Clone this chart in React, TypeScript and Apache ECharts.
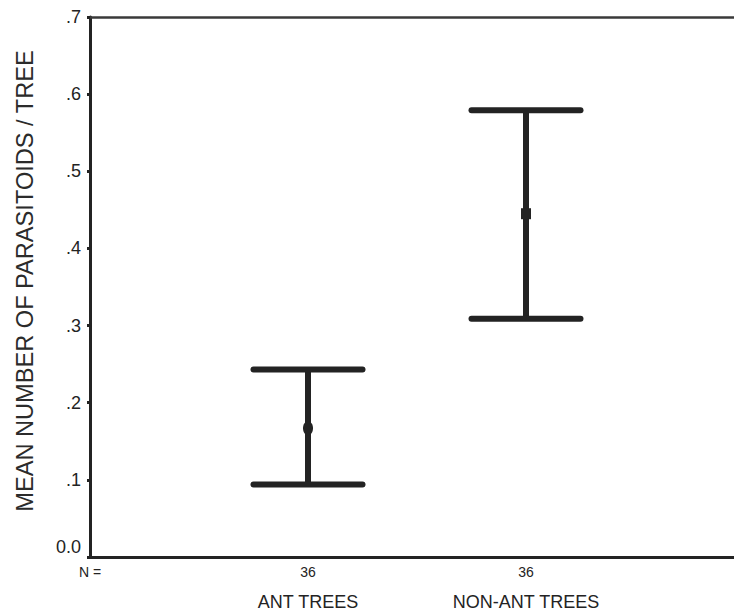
import React, { useEffect, useRef } from "react";
import * as echarts from "echarts";

// Group labels, sample sizes and the mean with its error-bar limits per group
const categories = ["ANT TREES", "NON-ANT TREES"];
const counts = [36, 36];
const means = [0.167, 0.445];
const lowerLimits = [0.094, 0.309];
const upperLimits = [0.243, 0.579];
const markerShapes = ["ellipse", "rect"];

const yTicks = [0, 0.1, 0.2, 0.3, 0.4, 0.5, 0.6, 0.7];

const INK = "#232323";
const FONT = "Liberation Sans, Arial, sans-serif";

export default function App() {
  const ref = useRef<HTMLDivElement>(null);

  useEffect(() => {
    if (!ref.current) return;
    const chart = echarts.init(ref.current, null, { renderer: "svg" });

    // group i sits at x = i + 1; the plot runs on past the right edge of the page
    const data = categories.map((_, i) => [i + 1, means[i], lowerLimits[i], upperLimits[i], i]);

    const labelFor = (v: number) => {
      if (Math.abs(v) < 1e-9) return "{n|N =}";
      if (Math.abs(v - Math.round(v)) > 1e-9) return "";
      const i = Math.round(v) - 1;
      if (i >= 0 && i < categories.length) return `{n|${counts[i]}}\n{c|${categories[i]}}`;
      return "";
    };

    const xMax = 644 / 218;
    const yTop = yTicks[yTicks.length - 1];

    chart.setOption({
      animation: false,
      backgroundColor: "#ffffff",
      grid: { left: 90, top: 17, bottom: 56, right: 0, containLabel: false },
      xAxis: {
        type: "value",
        min: 0,
        max: xMax,
        interval: 1,
        position: "bottom",
        axisLine: { show: true, onZero: false, lineStyle: { color: INK, width: 3 } },
        axisTick: { show: false },
        splitLine: { show: false },
        axisLabel: {
          margin: 8,
          showMaxLabel: false,
          formatter: labelFor,
          rich: {
            n: { fontFamily: FONT, fontSize: 14, color: INK, lineHeight: 14 },
            c: { fontFamily: FONT, fontSize: 18, color: INK, lineHeight: 46 },
          },
        },
      },
      yAxis: {
        type: "value",
        min: yTicks[0],
        max: yTop,
        interval: 0.1,
        axisLine: { show: true, onZero: false, lineStyle: { color: INK, width: 3 } },
        axisTick: { show: true, length: 3, lineStyle: { color: INK, width: 3 } },
        splitLine: { show: false },
        axisLabel: {
          margin: 9,
          fontFamily: FONT,
          fontSize: 18,
          color: INK,
          formatter: (v: number) =>
            v === 0 ? "{z|0.0}" : "." + Math.round(v * 10),
          rich: {
            z: { fontFamily: FONT, fontSize: 18, color: INK, padding: [0, 0, 20, 0] },
          },
        },
      },
      graphic: [
        {
          type: "text",
          x: 25,
          y: 281,
          rotation: Math.PI / 2,
          style: {
            text: "MEAN NUMBER OF PARASITOIDS / TREE",
            fontFamily: FONT,
            fontSize: 23.6,
            fill: "#2b2b2b",
            align: "center",
            verticalAlign: "middle",
          },
        },
      ],
      series: [
        {
          type: "custom",
          data,
          // frame line along the top of the plot
          markLine: {
            silent: true,
            symbol: "none",
            label: { show: false },
            lineStyle: { color: "#3a3a3a", width: 2.5, type: "solid" },
            data: [{ yAxis: yTop }],
          },
          renderItem: (params: any, api: any) => {
            const x = api.value(0);
            const mid = api.coord([x, api.value(1)]);
            const lo = api.coord([x, api.value(2)]);
            const hi = api.coord([x, api.value(3)]);
            const half = api.size([1, 0])[0] * 0.25;
            const shape = markerShapes[api.value(4)];
            const stroke = { stroke: INK, lineWidth: 6, lineCap: "round" };
            const marker =
              shape === "ellipse"
                ? { type: "ellipse", shape: { cx: mid[0], cy: mid[1], rx: 5, ry: 7 }, style: { fill: INK } }
                : { type: "rect", shape: { x: mid[0] - 5, y: mid[1] - 5.5, width: 10, height: 11 }, style: { fill: INK } };
            return {
              type: "group",
              children: [
                { type: "line", shape: { x1: lo[0], y1: lo[1], x2: hi[0], y2: hi[1] }, style: { stroke: INK, lineWidth: 6 } },
                { type: "line", shape: { x1: hi[0] - half, y1: hi[1], x2: hi[0] + half, y2: hi[1] }, style: stroke },
                { type: "line", shape: { x1: lo[0] - half, y1: lo[1], x2: lo[0] + half, y2: lo[1] }, style: stroke },
                marker,
              ],
            };
          },
        },
      ],
    });

    return () => chart.dispose();
  }, []);

  return (
    <div
      ref={ref}
      style={{ position: "fixed", left: 0, top: 0, width: 734, height: 613, background: "#fff" }}
    />
  );
}
